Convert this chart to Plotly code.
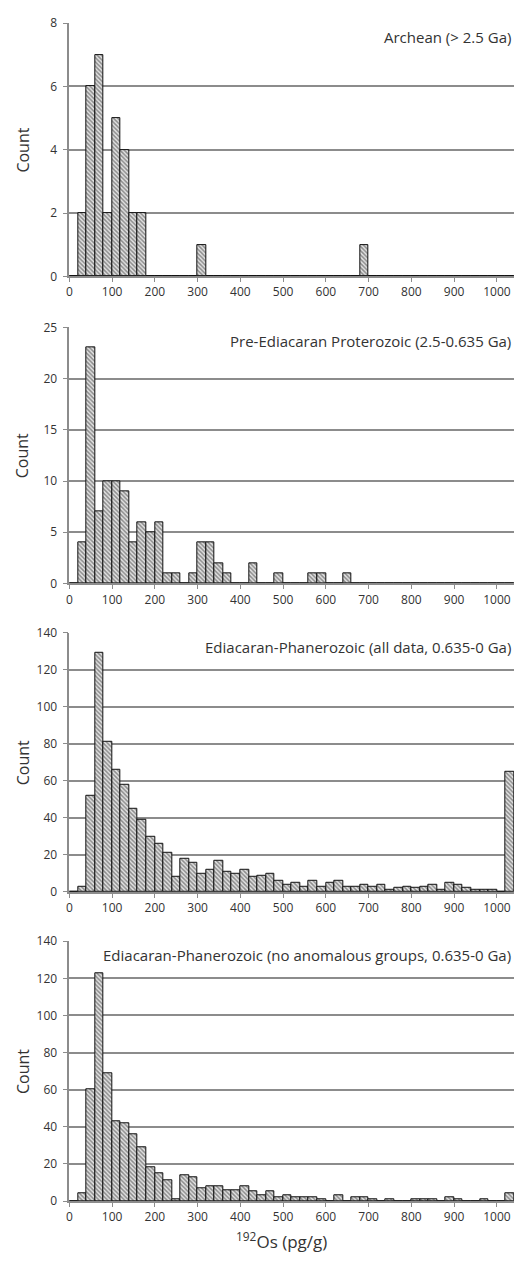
import plotly.graph_objects as go

# ---- data ----
bin_width = 20
bin_left = list(range(0, 1040, bin_width))  # 52 bins: 0-20 ... 1020-1040 (last = >1000 overflow)

archean = [0, 2, 6, 7, 2, 5, 4, 2, 2, 0, 0, 0, 0, 0, 0, 1, 0, 0, 0, 0,
           0, 0, 0, 0, 0, 0, 0, 0, 0, 0, 0, 0, 0, 0, 1, 0, 0, 0, 0, 0,
           0, 0, 0, 0, 0, 0, 0, 0, 0, 0, 0, 0]
pre_ediacaran = [0, 4, 23, 7, 10, 10, 9, 4, 6, 5, 6, 1, 1, 0, 1, 4, 4, 2, 1, 0,
                 0, 2, 0, 0, 1, 0, 0, 0, 1, 1, 0, 0, 1, 0, 0, 0, 0, 0, 0, 0,
                 0, 0, 0, 0, 0, 0, 0, 0, 0, 0, 0, 0]
ediacaran_all = [0, 3, 52, 129, 81, 66, 58, 45, 39, 30, 26, 21, 8, 18, 16, 10, 12, 17, 11, 10,
                 12, 8, 9, 10, 6, 4, 5, 3, 6, 3, 5, 6, 3, 3, 4, 3, 4, 1, 2, 3,
                 2, 3, 4, 1, 5, 4, 2, 1, 1, 1, 0, 65]
ediacaran_noanom = [0, 4, 60, 123, 69, 43, 42, 36, 29, 18, 15, 11, 1, 14, 13, 7, 8, 8, 6, 6,
                    8, 5, 3, 5, 2, 3, 2, 2, 2, 1, 0, 3, 0, 2, 2, 1, 0, 1, 0, 0,
                    1, 1, 1, 0, 2, 1, 0, 0, 1, 0, 0, 4]

titles = ["Archean (> 2.5 Ga)",
          "Pre-Ediacaran Proterozoic (2.5-0.635 Ga)",
          "Ediacaran-Phanerozoic (all data, 0.635-0 Ga)",
          "Ediacaran-Phanerozoic (no anomalous groups, 0.635-0 Ga)"]
series = [archean, pre_ediacaran, ediacaran_all, ediacaran_noanom]
y_max = [8, 25, 140, 140]
y_step = [2, 5, 20, 20]
x_ticks = list(range(0, 1001, 100))
x_title = "<sup>192</sup>Os (pg/g)"

# ---- layout geometry (pixels) ----
W, H = 518, 1262
panels_px = [(14.3, 271.0), (322.7, 582.3), (632.3, 895.0), (945.0, 1208.3)]
x0_px, x1_px = 66.7, 514.0

FONT = "Open Sans"
TXT = "#333333"
GRID = "#8c8c8c"

fig = go.Figure()
centers = [l + bin_width / 2 for l in bin_left]

for i, (vals, ttl) in enumerate(zip(series, titles)):
    n = i + 1
    xa = "x" if n == 1 else f"x{n}"
    ya = "y" if n == 1 else f"y{n}"
    fig.add_trace(go.Bar(
        x=centers, y=vals, width=bin_width, xaxis=xa, yaxis=ya,
        marker=dict(color="#e3e3e3",
                    line=dict(color="#111111", width=1),
                    pattern=dict(shape="\\", size=3, solidity=0.5,
                                 fgcolor="#333333", bgcolor="#e3e3e3")),
        showlegend=False, hoverinfo="skip"))
    top, bot = panels_px[i]
    dom_y = [1 - bot / H, 1 - top / H]
    axx = dict(domain=[x0_px / W, x1_px / W], range=[0, 1040], anchor=ya,
               tickmode="array", tickvals=x_ticks, ticktext=[str(t) for t in x_ticks],
               ticks="outside", ticklen=4, tickcolor=GRID, tickwidth=1,
               showline=True, linecolor=GRID, linewidth=1.5, showgrid=False,
               zeroline=False, tickfont=dict(family=FONT, size=12, color=TXT))
    axy = dict(domain=dom_y, range=[0, y_max[i]], anchor=xa,
               tickmode="linear", tick0=0, dtick=y_step[i],
               ticks="outside", ticklen=5, tickcolor=GRID, tickwidth=1,
               showline=True, linecolor=GRID, linewidth=1.5,
               showgrid=True, gridcolor=GRID, gridwidth=1.5, zeroline=False,
               ticklabelstandoff=3,
               tickfont=dict(family=FONT, size=12, color=TXT))
    fig.layout[f"xaxis{'' if n == 1 else n}"] = axx
    fig.layout[f"yaxis{'' if n == 1 else n}"] = axy
    fig.add_annotation(text=ttl, xref="paper", yref="paper",
                       x=513 / W, y=1 - (top + 14) / H,
                       xanchor="right", yanchor="middle", showarrow=False,
                       font=dict(family=FONT, size=15, color=TXT))
    fig.add_annotation(text="Count", xref="paper", yref="paper",
                       x=20 / W, y=1 - (top + bot) / 2 / H, textangle=-90,
                       xanchor="center", yanchor="middle", showarrow=False,
                       font=dict(family=FONT, size=16, color=TXT))

fig.add_annotation(text=x_title, xref="paper", yref="paper",
                   x=280 / W, y=1 - 1248 / H, xanchor="center", yanchor="middle",
                   showarrow=False, font=dict(family=FONT, size=17, color=TXT))

fig.update_layout(width=W, height=H, margin=dict(l=0, r=0, t=0, b=0),
                  plot_bgcolor="white", paper_bgcolor="white", bargap=0)

fig.write_html("out.html", config={"displayModeBar": False},
               post_script="document.body.style.margin='0';document.body.style.overflow='hidden';")
